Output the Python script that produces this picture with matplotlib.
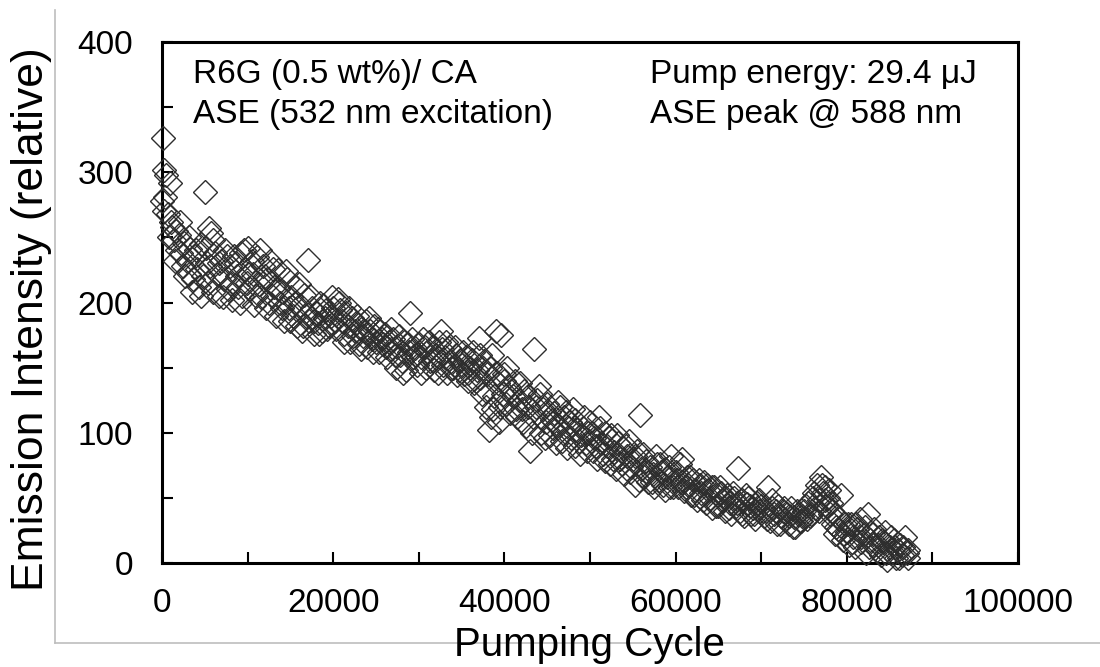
import matplotlib
matplotlib.use('Agg')
import matplotlib.pyplot as plt
from matplotlib.lines import Line2D

plt.rcParams['font.family'] = ['Liberation Sans', 'DejaVu Sans']

# Datos: ciclo de bombeo y emision (relativa)
cycles = [
    0, 100, 200, 300, 500, 700, 900, 1000, 1200, 1400, 1600, 1800, 2000, 2200, 2400, 2600,
    2900, 3100, 3300, 3600, 3800, 4100, 4300, 4600, 4800,
    5000, 5200, 5400, 5500, 5700, 5900, 6200, 6400, 6700, 6900, 7200, 7400, 7700, 7900,
    8200, 8400, 8700, 8900, 9200, 9400, 9700, 9900,
    10100, 10300, 10600, 10800, 11100, 11300, 11600, 11800, 12100, 12300, 12600, 12800,
    13100, 13300, 13600, 13800, 14100, 14300, 14600, 14800,
    15100, 15300, 15600, 15800, 16100, 16300, 16600, 16800, 17000, 17200, 17500, 17700,
    18000, 18200, 18500, 18700, 19000, 19200, 19500, 19700,
    20000, 20300, 20500, 20700, 21000, 21200, 21500, 21700, 22000, 22200, 22500, 22700,
    23000, 23300, 23500, 23800, 24000, 24300, 24500, 24800,
    25000, 25300, 25500, 25800, 26000, 26300, 26500, 26800, 27000, 27300, 27500, 27800,
    28000, 28300, 28500, 28800, 29000, 29300, 29500, 29800,
    30000, 30300, 30500, 30800, 31000, 31300, 31500, 31800, 32000, 32300, 32600, 32800,
    33000, 33300, 33500, 33800, 34000, 34300, 34500, 34800,
    35000, 35300, 35500, 35800, 36000, 36300, 36500, 36800, 37000, 37200, 37400, 37600,
    37800, 38000, 38200, 38400, 38600, 38800, 39000, 39200, 39400, 39600, 39800,
    40000, 40200, 40500, 40700, 41000, 41200, 41500, 41700, 42000, 42300, 42500, 42800,
    43000, 43300, 43500, 43800, 44000, 44300, 44500, 44800,
    45000, 45300, 45500, 45800, 46000, 46300, 46500, 46800, 47000, 47300, 47500, 47800,
    48000, 48300, 48500, 48800, 49000, 49300, 49500, 49800,
    50000, 50300, 50500, 50800, 51000, 51300, 51500, 51800, 52000, 52300, 52500, 52800,
    53000, 53300, 53500, 53800, 54000, 54300, 54500, 54800,
    55000, 55300, 55500, 55800, 56000, 56300, 56500, 56800, 57000, 57300, 57500, 57800,
    58000, 58300, 58500, 58800, 59000, 59300, 59500, 59800,
    60000, 60300, 60500, 60800, 61000, 61300, 61500, 61800, 62000, 62300, 62500, 62800,
    63000, 63300, 63500, 63800, 64000, 64300, 64500, 64800,
    65000, 65300, 65500, 65800, 66000, 66300, 66500, 66800, 67000, 67300, 67500, 67800,
    68000, 68300, 68500, 68800, 69000, 69300, 69500, 69800,
    70000, 70300, 70500, 70800, 71000, 71300, 71500, 71800, 72000, 72300, 72500, 72800,
    73000, 73300, 73500, 73800, 74000, 74300, 74500, 74800,
    75000, 75300, 75500, 75800, 76000, 76300, 76500, 76800, 77000, 77200, 77400, 77600,
    77800, 78000, 78200, 78400, 78600, 78800, 79000, 79300, 79500, 79800,
    80000, 80200, 80500, 80700, 81000, 81200, 81500, 81700, 82000, 82200, 82500, 82700,
    83000, 83200, 83500, 83700, 84000, 84200, 84500, 84700, 85000, 85200, 85500, 85700,
    86000, 86200, 86500, 86800, 87000, 87200,
    # segunda tanda de lecturas (zona densa)
    250, 800, 1500, 2100, 2700, 3200, 3500, 4000, 4500, 5100, 5600, 6000, 6600, 7100,
    7600, 8000, 8600, 9100, 9600, 10000,
    10500, 11000, 11500, 12000, 12500, 13000, 13500, 14000, 14500, 15000, 15500, 16000,
    16500, 17300, 17800, 18300, 18800, 19300, 19800, 20200,
    20800, 21300, 21800, 22300, 22800, 23200, 23700, 24200, 24700, 25200, 25700, 26200,
    26700, 27200, 27700, 28200, 28700, 29200, 29700, 30200,
    30700, 31200, 31700, 32200, 32700, 33200, 33700, 34200, 34700, 35200, 35700, 36200,
    36700, 37100, 37500, 37900, 38300, 38700, 39100, 39500, 39900,
    40300, 40800, 41300, 41800, 42200, 42700, 43200, 43700, 44200, 44700, 45200, 45700,
    46200, 46700, 47200, 47700, 48200, 48700, 49200, 49700,
    50200, 50700, 51200, 51700, 52200, 52700, 53200, 53700, 54200, 54700, 55200, 55700,
    56200, 56700, 57200, 57700, 58200, 58700, 59200, 59700,
    60200, 60700, 61200, 61700, 62200, 62700, 63200, 63700, 64200, 64700, 65200, 65700,
    66200, 66700, 67200, 67700, 68200, 68700, 69200, 69700,
    70200, 70700, 71200, 71700, 72200, 72700, 73200, 73700, 74200, 74700, 75200, 75700,
    76200, 76700, 77100, 77500, 77900, 78300, 78700, 79100, 79600,
    80100, 80600, 81100, 81600, 82100, 82600, 83100, 83600, 84100, 84600, 85100, 85600,
    86100, 86600, 87100,
]
intensity = [
    278, 326, 302, 281, 298, 268, 292, 262, 258, 248, 255, 240, 252, 238, 228, 246,
    232, 222, 241, 218, 236, 226, 212, 245, 220,
    285, 230, 215, 257, 253, 208, 238, 222, 205, 232, 218, 240, 210, 228,
    202, 236, 220, 212, 238, 205, 226, 215,
    242, 210, 222, 198, 235, 214, 204, 228, 196, 218, 232, 205,
    212, 190, 225, 200, 208, 186, 218, 196,
    204, 190, 212, 182, 198, 178, 206, 190, 233, 186, 196, 176,
    192, 184, 200, 178, 188, 194, 182, 190,
    196, 180, 203, 200, 186, 176, 192, 182, 170, 188, 178, 184,
    168, 180, 174, 186, 166, 178, 172, 182,
    170, 162, 178, 168, 176, 158, 170, 164, 172, 150, 166, 160,
    155, 170, 148, 162, 192, 158, 165, 152,
    168, 158, 172, 150, 162, 155, 166, 148, 160, 170, 178, 152,
    158, 146, 165, 155, 150, 160, 144, 156,
    152, 145, 158, 140, 150, 162, 138, 148, 173, 142, 130, 155,
    120, 145, 102, 112, 160, 128, 178, 138, 108, 175, 130,
    145, 122, 135, 115, 128, 140, 112, 125, 118, 132, 105, 120,
    86, 112, 164, 125, 136, 100, 118, 108,
    122, 98, 110, 115, 92, 106, 120, 100, 112, 88, 104, 96,
    118, 90, 102, 84, 98, 112, 92, 100,
    108, 86, 96, 80, 112, 92, 84, 100, 90, 76, 98, 85,
    72, 92, 80, 88, 68, 82, 94, 74,
    80, 60, 86, 114, 72, 66, 78, 62, 74, 68, 58, 76,
    64, 70, 60, 72, 66, 58, 82, 64,
    70, 58, 76, 62, 55, 66, 60, 52, 64, 56, 48, 60,
    54, 62, 46, 56, 50, 42, 58, 52,
    44, 54, 48, 40, 52, 46, 38, 50, 44, 73, 40, 48,
    36, 45, 50, 38, 42, 34, 46, 40,
    44, 36, 40, 58, 32, 42, 38, 30, 44, 36, 40, 33,
    38, 30, 42, 35, 28, 38, 32, 36,
    40, 34, 46, 38, 50, 42, 60, 48, 66, 54, 58, 44,
    50, 38, 46, 30, 22, 36, 26, 52, 18, 30,
    24, 14, 30, 20, 12, 26, 34, 16, 22, 8, 38, 18,
    14, 26, 10, 20, 6, 16, 24, 2, 12, 8, 18, 4,
    10, 14, 6, 20, 8, 4,
    # segunda tanda de lecturas (zona densa)
    270, 250, 232, 262, 220, 250, 208, 240, 205, 242, 228, 248, 230, 204,
    236, 214, 230, 200, 240, 222,
    232, 205, 240, 220, 200, 226, 210, 196, 224, 186, 200, 214,
    182, 205, 186, 176, 198, 180, 204, 186,
    194, 170, 196, 174, 190, 164, 178, 188, 162, 180, 172, 166,
    180, 160, 174, 146, 168, 172, 160, 146,
    166, 170, 156, 146, 164, 170, 150, 166, 148, 162, 146, 156,
    140, 160, 150, 132, 150, 118, 146, 120, 140,
    150, 132, 118, 138, 108, 128, 100, 120, 130, 96, 116, 104,
    124, 94, 116, 108, 110, 94, 104, 86,
    100, 90, 104, 78, 96, 80, 98, 76, 90, 70, 82, 64,
    84, 70, 62, 82, 76, 56, 74, 58,
    64, 80, 58, 66, 52, 64, 48, 60, 58, 44, 58, 50,
    42, 54, 46, 38, 52, 44, 38, 48,
    40, 34, 48, 40, 30, 42, 36, 28, 40, 32, 44, 36,
    54, 40, 60, 48, 56, 40, 28, 34, 22,
    30, 16, 30, 20, 28, 12, 22, 14, 18, 8, 20, 12,
    4, 12, 10,
]

x_ticks = [0, 10000, 20000, 30000, 40000, 50000, 60000, 70000, 80000, 90000, 100000]
x_labels = ['0', '', '20000', '', '40000', '', '60000', '', '80000', '', '100000']
y_ticks = [0, 50, 100, 150, 200, 250, 300, 350, 400]
y_labels = ['0', '', '100', '', '200', '', '300', '', '400']

fig = plt.figure(figsize=(11, 6.67), dpi=100)
ax = fig.add_axes([0.1473, 0.1559, 0.7782, 0.7811])

# Marco gris exterior (como en la figura original)
fig.add_artist(Line2D([55 / 1100, 55 / 1100], [1 - 10 / 667, 1 - 643 / 667],
                      transform=fig.transFigure, color='#bdbdbd', lw=1.2, zorder=0))
fig.add_artist(Line2D([55 / 1100, 1.0], [1 - 643 / 667, 1 - 643 / 667],
                      transform=fig.transFigure, color='#bdbdbd', lw=1.2, zorder=0))

ax.plot(cycles, intensity, ls='none', marker='D', ms=12, mfc='none',
        mec='#2e2e2e', mew=1.0, clip_on=False, zorder=3)

ax.set_xlim(0, 100000)
ax.set_ylim(0, 400)
ax.set_xticks(x_ticks)
ax.set_xticklabels(x_labels)
ax.set_yticks(y_ticks)
ax.set_yticklabels(y_labels)
ax.tick_params(axis='both', direction='in', length=8, width=1.5, labelsize=24)
ax.tick_params(axis='x', pad=18)
ax.tick_params(axis='y', pad=21)
for s in ax.spines.values():
    s.set_linewidth(2.2)

ax.set_xlabel('Pumping Cycle', fontsize=29)
ax.xaxis.set_label_coords(0.499, -0.12)
ax.set_ylabel('Emission Intensity (relative)', fontsize=32)
ax.yaxis.set_label_coords(-0.128, 0.468)

ax.text(0.036, 0.921, 'R6G (0.5 wt%)/ CA', transform=ax.transAxes, fontsize=24, va='baseline')
ax.text(0.036, 0.845, 'ASE (532 nm excitation)', transform=ax.transAxes, fontsize=24, va='baseline')
ax.text(0.570, 0.921, 'Pump energy: 29.4 \u03bcJ', transform=ax.transAxes, fontsize=24, va='baseline')
ax.text(0.570, 0.845, 'ASE peak @ 588 nm', transform=ax.transAxes, fontsize=24, va='baseline')

fig.savefig('out.png', dpi=100)
